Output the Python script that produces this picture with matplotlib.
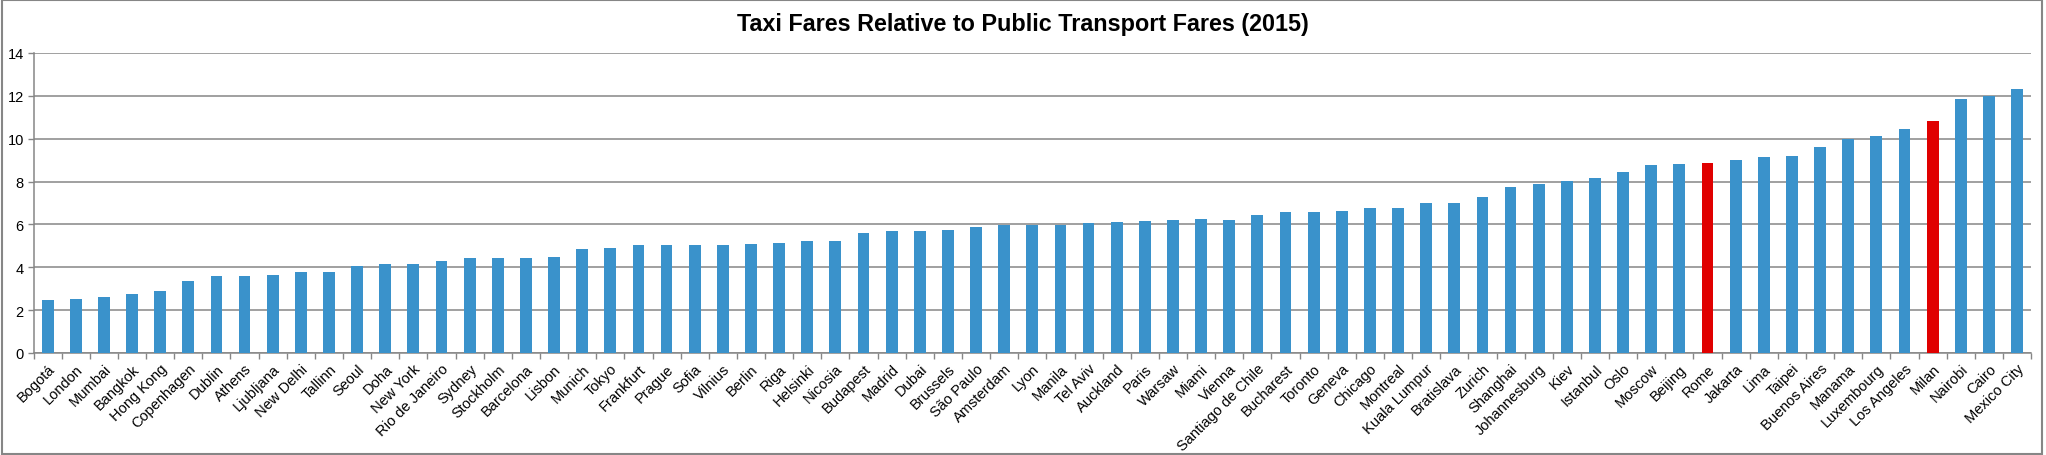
import numpy as np
import matplotlib
matplotlib.use("Agg")
import matplotlib.pyplot as plt
from matplotlib.patches import Rectangle

# ============ Du lieu ============
cities = ["Bogotá", "London", "Mumbai", "Bangkok", "Hong Kong", "Copenhagen",
          "Dublin", "Athens", "Ljubljana", "New Delhi", "Tallinn", "Seoul",
          "Doha", "New York", "Rio de Janeiro", "Sydney", "Stockholm",
          "Barcelona", "Lisbon", "Munich", "Tokyo", "Frankfurt", "Prague",
          "Sofia", "Vilnius", "Berlin", "Riga", "Helsinki", "Nicosia",
          "Budapest", "Madrid", "Dubai", "Brussels", "São Paulo", "Amsterdam",
          "Lyon", "Manila", "Tel Aviv", "Auckland", "Paris", "Warsaw", "Miami",
          "Vienna", "Santiago de Chile", "Bucharest", "Toronto", "Geneva",
          "Chicago", "Montreal", "Kuala Lumpur", "Bratislava", "Zurich",
          "Shanghai", "Johannesburg", "Kiev", "Istanbul", "Oslo", "Moscow",
          "Beijing", "Rome", "Jakarta", "Lima", "Taipei", "Buenos Aires",
          "Manama", "Luxembourg", "Los Angeles", "Milan", "Nairobi", "Cairo",
          "Mexico City"]

ratios = [2.45, 2.54, 2.59, 2.73, 2.87, 3.38,
          3.57, 3.57, 3.66, 3.77, 3.80, 4.08,
          4.13, 4.17, 4.27, 4.41, 4.41,
          4.45, 4.50, 4.83, 4.88, 5.02, 5.02,
          5.02, 5.02, 5.10, 5.15, 5.24, 5.24,
          5.61, 5.71, 5.71, 5.75, 5.89, 5.99,
          5.99, 5.99, 6.08, 6.13, 6.17, 6.22, 6.27,
          6.22, 6.45, 6.59, 6.59, 6.64,
          6.75, 6.76, 6.99, 6.99, 7.27,
          7.74, 7.88, 8.02, 8.16, 8.44, 8.77,
          8.82, 8.87, 9.01, 9.15, 9.19, 9.61,
          10.00, 10.13, 10.46, 10.83, 11.86, 11.99,
          12.33]

highlight = ["Rome", "Milan"]

# ============ Ve ============
BLUE = "#3A92CB"
RED = "#E00000"
GRID = "#868686"

plt.rcParams["font.family"] = ["Liberation Sans", "DejaVu Sans"]

fig = plt.figure(figsize=(20.46, 4.56), dpi=100)
ax = fig.add_axes([0.0164, 0.2237, 0.9763, 0.6579])

x = np.arange(len(cities))
colors = [RED if c in highlight else BLUE for c in cities]
ax.bar(x, ratios, width=0.42, color=colors, zorder=3)

ax.set_xlim(-0.5, len(cities) - 0.5)
ax.set_ylim(0, 14)
ax.set_yticks(range(0, 15, 2))
ax.yaxis.grid(True, color=GRID, lw=1.1, zorder=0)

# tick giua cac category (kieu Excel)
ax.set_xticks(np.arange(-0.5, len(cities), 1.0))
ax.set_xticklabels([])
ax.set_xticks(x, minor=True)
ax.set_xticklabels(cities, minor=True, rotation=45, ha="right",
                   rotation_mode="anchor", fontsize=10.5)
ax.tick_params(axis="x", which="major", length=4, color=GRID, width=1)
ax.tick_params(axis="x", which="minor", length=0, pad=6)
ax.tick_params(axis="y", length=4, color=GRID, width=1, labelsize=10.5, pad=3)

for side in ["top", "right"]:
    ax.spines[side].set_visible(False)
for side in ["left", "bottom"]:
    ax.spines[side].set_color(GRID)
    ax.spines[side].set_linewidth(1.1)

fig.text(0.5, 1 - 25 / 456, "Taxi Fares Relative to Public Transport Fares (2015)",
         fontsize=16.8, fontweight="bold", ha="center", va="center")

# vien ngoai cua chart
fig.patches.append(Rectangle((0.001, 0.002), 0.997, 0.995, transform=fig.transFigure,
                             fill=False, edgecolor=GRID, lw=1.5))

fig.savefig("out.png", dpi=100)
